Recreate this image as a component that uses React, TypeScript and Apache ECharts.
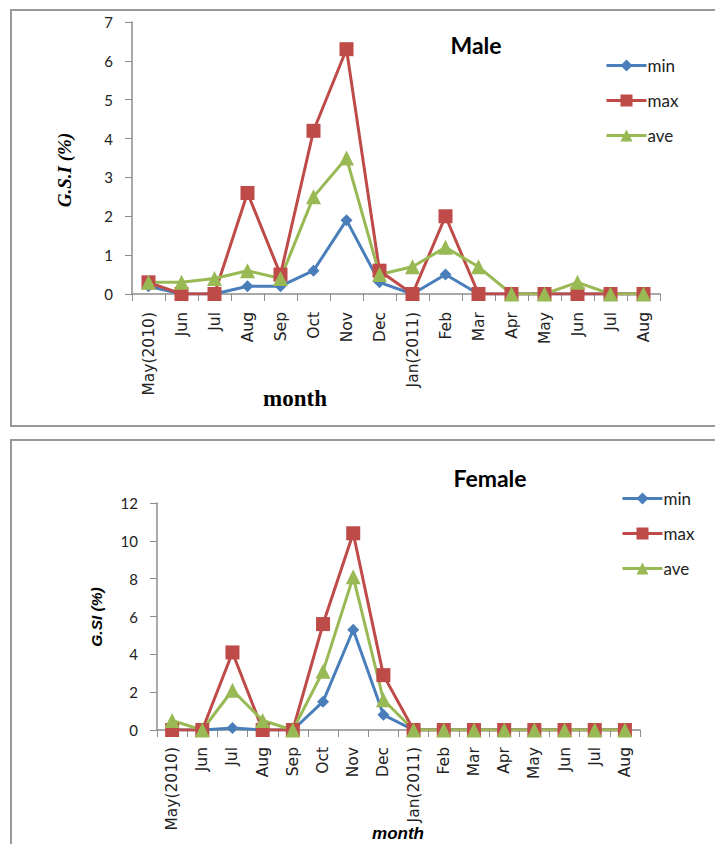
import React, { useEffect, useRef } from "react";
import * as echarts from "echarts";

const months = ["May(2010)", "Jun", "Jul", "Aug", "Sep", "Oct", "Nov", "Dec", "Jan(2011)", "Feb", "Mar", "Apr", "May", "Jun", "Jul", "Aug"];

const maleMin = [0.2, 0, 0, 0.2, 0.2, 0.6, 1.9, 0.3, 0, 0.5, 0, 0, 0, 0, 0, 0];
const maleMax = [0.3, 0, 0, 2.6, 0.5, 4.2, 6.3, 0.6, 0, 2.0, 0, 0, 0, 0, 0, 0];
const maleAve = [0.3, 0.3, 0.4, 0.6, 0.4, 2.5, 3.5, 0.5, 0.7, 1.2, 0.7, 0, 0, 0.3, 0, 0];

const femaleMin = [0, 0, 0.1, 0, 0, 1.5, 5.3, 0.8, 0, 0, 0, 0, 0, 0, 0, 0];
const femaleMax = [0, 0, 4.1, 0, 0, 5.6, 10.4, 2.9, 0, 0, 0, 0, 0, 0, 0, 0];
const femaleAve = [0.5, 0, 2.1, 0.5, 0, 3.1, 8.1, 1.6, 0, 0, 0, 0, 0, 0, 0, 0];

const BLUE = "#4A7EBB";
const RED = "#BE4B48";
const GREEN = "#98B954";
const AXIS = "#8C8C8C";

export default function App() {
  const ref = useRef<HTMLDivElement>(null);
  useEffect(() => {
    const chart = echarts.init(ref.current!, null, { renderer: "svg" });
    const mk = (name: string, data: number[], idx: number, color: string, symbol: string, size: number) => ({
      name,
      type: "line",
      xAxisIndex: idx,
      yAxisIndex: idx,
      data,
      symbol,
      symbolSize: size,
      showAllSymbol: true,
      lineStyle: { color, width: 3 },
      itemStyle: { color },
      z: 2,
    });
    const xAx = (gridIndex: number, margin: number) => ({
      type: "category",
      gridIndex,
      data: months,
      boundaryGap: true,
      axisLine: { show: true, lineStyle: { color: AXIS, width: 1.5 } },
      axisTick: { show: true, length: 7, lineStyle: { color: AXIS } },
      axisLabel: { rotate: 90, interval: 0, color: "#222", fontFamily: "DejaVu Sans", fontSize: 15.5, margin },
    });
    const yAx = (gridIndex: number, max: number, interval: number) => ({
      type: "value",
      gridIndex,
      min: 0,
      max,
      interval,
      splitLine: { show: false },
      axisLine: { show: true, lineStyle: { color: AXIS, width: 1.5 } },
      axisTick: { show: true, length: 7, lineStyle: { color: AXIS } },
      axisLabel: { color: "#222", fontFamily: "Lato", fontSize: 15, margin: 19 },
    });
    const legendBase = {
      orient: "vertical",
      itemWidth: 40,
      itemHeight: 15,
      itemGap: 18,
      lineStyle: { width: 3 },
      textStyle: { fontFamily: "Lato", fontSize: 17, color: "#222", padding: [0, 0, 0, -4] },
      data: ["min", "max", "ave"],
    };
    chart.setOption({
      animation: false,
      backgroundColor: "#fff",
      grid: [
        { left: 132, top: 22, width: 528, height: 272 },
        { left: 157, top: 503, width: 483, height: 227 },
      ],
      xAxis: [xAx(0, 18), xAx(1, 17)],
      yAxis: [yAx(0, 7, 1), yAx(1, 12, 2)],
      legend: [
        { ...legendBase, left: 600, top: 52 },
        { ...legendBase, left: 616, top: 485 },
      ],
      series: [
        mk("min", maleMin, 0, BLUE, "diamond", 12),
        mk("max", maleMax, 0, RED, "rect", 14),
        mk("ave", maleAve, 0, GREEN, "triangle", 15),
        mk("min", femaleMin, 1, BLUE, "diamond", 12),
        mk("max", femaleMax, 1, RED, "rect", 14),
        mk("ave", femaleAve, 1, GREEN, "triangle", 15),
      ],
      graphic: [
        { type: "rect", shape: { x: 11, y: 10, width: 720, height: 416 }, style: { fill: "none", stroke: "#999", lineWidth: 2 }, z: -1 },
        { type: "rect", shape: { x: 11, y: 440, width: 720, height: 420 }, style: { fill: "none", stroke: "#999", lineWidth: 2 }, z: -1 },
        { type: "text", x: 476, y: 45, style: { text: "Male", fontFamily: "Lato", fontWeight: "bold", fontSize: 23, fill: "#000", textAlign: "center", textVerticalAlign: "middle" } },
        { type: "text", x: 490, y: 478, style: { text: "Female", fontFamily: "Lato", fontWeight: "bold", fontSize: 23, fill: "#000", textAlign: "center", textVerticalAlign: "middle" } },
        { type: "text", x: 295, y: 398, style: { text: "month", fontFamily: "Liberation Serif", fontWeight: "bold", fontSize: 23, fill: "#000", textAlign: "center", textVerticalAlign: "middle" } },
        { type: "text", x: 398, y: 833, style: { text: "month", fontFamily: "Liberation Sans", fontWeight: "bold", fontStyle: "italic", fontSize: 17, fill: "#000", textAlign: "center", textVerticalAlign: "middle" } },
        { type: "text", x: 64, y: 170, rotation: Math.PI / 2, style: { text: "G.S.I (%)", fontFamily: "Liberation Serif", fontWeight: "bold", fontStyle: "italic", fontSize: 19, fill: "#000", textAlign: "center", textVerticalAlign: "middle" } },
        { type: "text", x: 96, y: 617, rotation: Math.PI / 2, style: { text: "G.SI (%)", fontFamily: "Liberation Sans", fontWeight: "bold", fontStyle: "italic", fontSize: 15.5, fill: "#000", textAlign: "center", textVerticalAlign: "middle" } },
      ],
    });
    return () => chart.dispose();
  }, []);
  return <div ref={ref} style={{ position: "absolute", left: 0, top: 0, width: 715, height: 844 }} />;
}
